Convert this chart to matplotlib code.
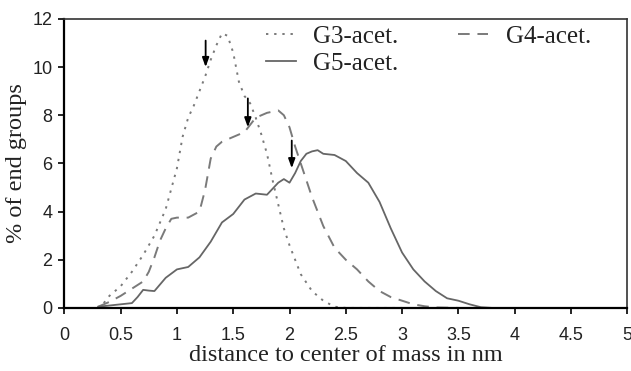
import matplotlib
matplotlib.use("Agg")
import matplotlib.pyplot as plt

g3_x = [0.35, 0.4, 0.5, 0.6, 0.7, 0.8, 0.9, 1.0, 1.05, 1.1, 1.15, 1.2, 1.25, 1.3, 1.35, 1.4, 1.45,
        1.5, 1.55, 1.6, 1.65, 1.7, 1.75, 1.8, 1.85, 1.9, 1.95, 2.0, 2.1, 2.2, 2.3, 2.4, 2.5, 2.6, 3.0]
g3_y = [0.2, 0.5, 0.9, 1.5, 2.2, 3.0, 4.1, 5.8, 7.1, 7.9, 8.4, 9.0, 9.6, 10.3, 10.9, 11.4, 11.3,
        10.6, 9.4, 8.8, 8.5, 7.9, 7.2, 6.4, 5.3, 4.3, 3.3, 2.6, 1.4, 0.7, 0.3, 0.05, 0.0, 0.0, 0.0]

g4_x = [0.3, 0.4, 0.5, 0.6, 0.7, 0.75, 0.8, 0.85, 0.9, 0.95, 1.0, 1.1, 1.2, 1.25, 1.3, 1.35, 1.4,
        1.5, 1.6, 1.65, 1.7, 1.8, 1.9, 1.95, 2.0, 2.05, 2.1, 2.2, 2.3, 2.4, 2.5, 2.6, 2.7, 2.8,
        2.9, 3.0, 3.1, 3.2, 3.3, 3.5]
g4_y = [0.05, 0.25, 0.5, 0.8, 1.1, 1.5, 2.1, 2.8, 3.3, 3.7, 3.75, 3.75, 4.0, 4.9, 6.2, 6.7, 6.9,
        7.1, 7.3, 7.6, 7.9, 8.1, 8.2, 8.0, 7.5, 6.7, 6.0, 4.6, 3.4, 2.5, 2.0, 1.6, 1.1, 0.7,
        0.45, 0.3, 0.15, 0.07, 0.02, 0.0]

g5_x = [0.3, 0.4, 0.5, 0.6, 0.65, 0.7, 0.75, 0.8, 0.9, 1.0, 1.1, 1.2, 1.3, 1.4, 1.5, 1.6, 1.7,
        1.8, 1.9, 1.95, 2.0, 2.05, 2.1, 2.15, 2.2, 2.25, 2.3, 2.4, 2.5, 2.6, 2.7, 2.8, 2.9, 3.0,
        3.1, 3.2, 3.3, 3.4, 3.5, 3.6, 3.7, 3.8, 4.0]
g5_y = [0.05, 0.1, 0.15, 0.2, 0.45, 0.75, 0.72, 0.7, 1.25, 1.6, 1.7, 2.1, 2.75, 3.55, 3.9, 4.5, 4.75,
        4.7, 5.2, 5.35, 5.2, 5.6, 6.1, 6.4, 6.5, 6.55, 6.4, 6.35, 6.1, 5.6, 5.2, 4.4, 3.3, 2.3,
        1.6, 1.1, 0.7, 0.4, 0.3, 0.15, 0.03, 0.0, 0.0]

labels = ["G3-acet.", "G4-acet.", "G5-acet."]
x_ticks = [0, 0.5, 1, 1.5, 2, 2.5, 3, 3.5, 4, 4.5, 5]
x_tick_labels = ["0", "0.5", "1", "1.5", "2", "2.5", "3", "3.5", "4", "4.5", "5"]
y_ticks = [0, 2, 4, 6, 8, 10, 12]

# arrow positions: (x, y_start, y_end)
arrow_x = [1.255, 1.63, 2.02]
arrow_top = [11.1, 8.7, 6.95]
arrow_bot = [10.0, 7.5, 5.8]

line_color = "#7a7a7a"

fig = plt.figure(figsize=(6.31, 3.71), dpi=100)
ax = fig.add_axes([0.102, 0.170, 0.892, 0.779])

h3, = ax.plot(g3_x, g3_y, color=line_color, lw=1.4, linestyle=(0, (1.2, 3.0)), label=labels[0])
h4, = ax.plot(g4_x, g4_y, color=line_color, lw=1.4, linestyle=(0, (6, 4)), label=labels[1])
h5, = ax.plot(g5_x, g5_y, color="#666666", lw=1.3, linestyle="-", label=labels[2])

for xa, yt, yb in zip(arrow_x, arrow_top, arrow_bot):
    ax.annotate("", xy=(xa, yb), xytext=(xa, yt),
                arrowprops=dict(arrowstyle="-|>,head_length=0.55,head_width=0.2",
                                color="black", lw=1.3, shrinkA=0, shrinkB=0))

ax.set_xlim(0, 5)
ax.set_ylim(0, 12)
ax.set_xticks(x_ticks)
ax.set_xticklabels(x_tick_labels)
ax.set_yticks(y_ticks)

for lab in ax.get_xticklabels() + ax.get_yticklabels():
    lab.set_fontfamily("Liberation Sans")
    lab.set_fontsize(13)
    lab.set_color("#222222")

ax.tick_params(axis="both", direction="out", length=4.5, width=1.2, color="black")
ax.tick_params(axis="x", pad=9)
ax.tick_params(axis="y", pad=4)

ax.spines["left"].set_linewidth(1.6)
ax.spines["bottom"].set_linewidth(1.6)
ax.spines["left"].set_color("black")
ax.spines["bottom"].set_color("black")
ax.spines["top"].set_linewidth(1.2)
ax.spines["right"].set_linewidth(1.2)
ax.spines["top"].set_color("#333333")
ax.spines["right"].set_color("#333333")

ax.set_xlabel("distance to center of mass in nm", fontfamily="Liberation Serif", fontsize=17.5,
              color="#222222", labelpad=1)
ax.set_ylabel("% of end groups", fontfamily="Liberation Serif", fontsize=17.5,
              color="#222222", labelpad=4)

leg = ax.legend(handles=[h3, h5, h4], labels=[labels[0], labels[2], labels[1]], ncol=2,
                loc="upper left", bbox_to_anchor=(0.34, 1.012), frameon=False,
                prop={"family": "Liberation Serif", "size": 18},
                handlelength=1.2, handletextpad=0.7, columnspacing=2.4, labelspacing=0.17,
                borderaxespad=0)
for t in leg.get_texts():
    t.set_color("#222222")

fig.savefig("out.png", dpi=100)
